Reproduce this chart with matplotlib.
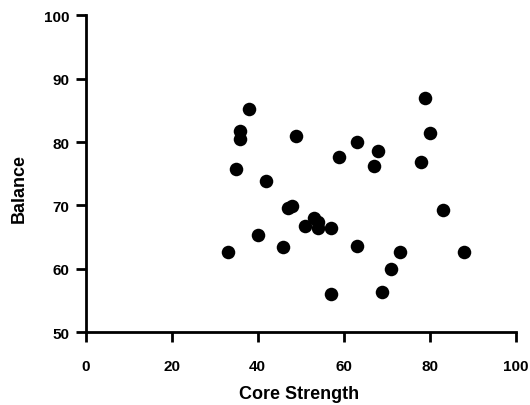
import matplotlib
matplotlib.use("Agg")
import matplotlib.pyplot as plt

# -----------------------------
# Data
# -----------------------------

core_strength = [33, 35, 36, 36, 38, 40, 42, 46, 47, 48,
                 49, 51, 53, 54, 54, 57, 57, 59, 63, 63,
                 67, 68, 69, 71, 73, 78, 79, 80, 83, 88]
balance = [62.7, 75.8, 81.8, 80.5, 85.2, 65.3, 73.9, 63.5, 69.6, 69.9,
           80.9, 66.7, 68.0, 67.4, 66.5, 66.5, 56.0, 77.7, 80.0, 63.6,
           76.2, 78.6, 56.3, 60.0, 62.6, 76.8, 86.9, 81.5, 69.3, 62.7]

x_ticks = [0, 20, 40, 60, 80, 100]
y_ticks = [50, 60, 70, 80, 90, 100]

FONT = "Liberation Sans"


def main():
    fig = plt.figure(figsize=(5.30, 4.06), dpi=100)
    ax = fig.add_axes([0.1617, 0.179, 0.8113, 0.781])

    ax.scatter(core_strength, balance, s=95, color="black", zorder=3,
               linewidths=0, clip_on=False)

    ax.set_xlim(0, 100)
    ax.set_ylim(50, 100)
    ax.set_xticks(x_ticks)
    ax.set_yticks(y_ticks)

    for side in ("top", "right"):
        ax.spines[side].set_visible(False)
    for side in ("left", "bottom"):
        ax.spines[side].set_linewidth(2)

    ax.tick_params(axis="x", length=7, width=2, pad=12)
    ax.tick_params(axis="y", length=7, width=2, pad=5)
    for lbl in ax.get_xticklabels() + ax.get_yticklabels():
        lbl.set_fontfamily(FONT)
        lbl.set_fontweight("bold")
        lbl.set_fontsize(11)

    ax.set_xlabel("Core Strength", fontfamily=FONT, fontweight="bold",
                  fontsize=13)
    ax.set_ylabel("Balance", fontfamily=FONT, fontweight="bold",
                  fontsize=13)
    ax.xaxis.set_label_coords(0.497, -0.166)
    ax.yaxis.set_label_coords(-0.134, 0.458)

    fig.savefig("out.png", dpi=100)
    plt.close(fig)


if __name__ == "__main__":
    main()
